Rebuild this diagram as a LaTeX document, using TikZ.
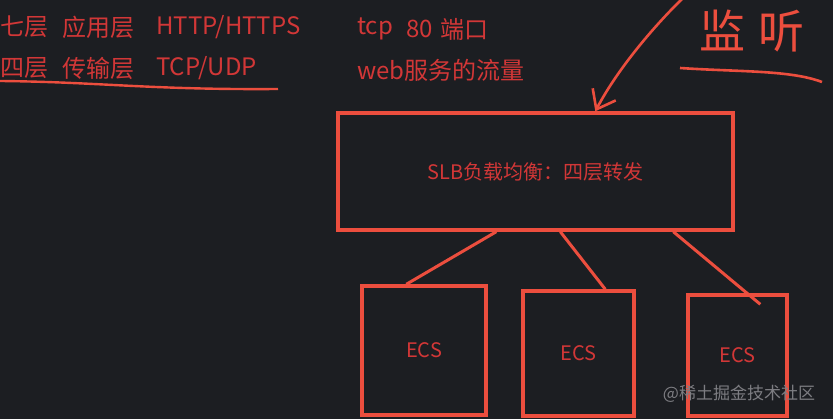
\documentclass[tikz,border=0pt]{standalone}
\usepackage{fontspec}
\setmainfont{Noto Sans CJK SC}
\usetikzlibrary{arrows.meta}
\definecolor{board}{RGB}{28,30,34}
\definecolor{pen}{RGB}{236,78,62}
\definecolor{ink}{RGB}{210,55,55}
\definecolor{wmgray}{RGB}{125,125,130}
\tikzset{
  box/.style = {draw = pen, line width = 3.4pt, text = ink, font = \fontsize{20}{24}\selectfont},
  wire/.style = {draw = pen, line width = 3pt},
  note/.style = {text = ink, inner sep = 0pt, font = \fontsize{24}{28}\selectfont},
}
\begin{document}
\begin{tikzpicture}[x = 1pt, y = -1pt]
    \fill[board] (0,0) rectangle (833,419);
    \useasboundingbox (0,0) rectangle (833,419);
    % layers
    \draw (0,27) node[note, anchor = west] (seven) {七层};
    \draw (62,27) node[note, anchor = west] (app) {应用层};
    \draw (156,27) node[note, anchor = west] (http) {HTTP/HTTPS};
    \draw (0,68) node[note, anchor = west] (four) {四层};
    \draw (62,68) node[note, anchor = west] (trans) {传输层};
    \draw (156,68) node[note, anchor = west] (tcpudp) {TCP/UDP};
    \draw[wire, line width = 2.4pt] (0,81) .. controls (100,82) and (150,90) .. (278,89);
    \draw (357,29) node[note, anchor = west] (tcp) {tcp};
    \draw (406,29) node[note, anchor = west] (port) {80};
    \draw (440,29) node[note, anchor = west] (duankou) {端口};
    \draw (357,70) node[note, anchor = west] (web) {web服务的流量};
    % boxes
    \node[box, minimum width = 395pt, minimum height = 117pt, font = \fontsize{20}{24}\selectfont] (slb) at (535.5,171.5) {SLB负载均衡：四层转发};
    \node[box, minimum width = 124pt, minimum height = 129pt] (ecsa) at (424,350.5) {ECS};
    \node[box, minimum width = 111pt, minimum height = 125pt] (ecsb) at (578.5,353.5) {ECS};
    \node[box, minimum width = 99pt, minimum height = 121pt] (ecsc) at (737.5,355.5) {ECS};
    \draw[wire] ([xshift = 160pt]slb.south west) -- ([xshift = 46pt]ecsa.north west);
    \draw[wire] ([xshift = 224pt]slb.south west) -- ([xshift = 84pt]ecsb.north west);
    \draw[wire] ([xshift = 337pt]slb.south west) -- ([xshift = 74pt, yshift = -11pt]ecsc.north west);
    % listen
    \draw (752,31) node[text = pen, inner sep = 0pt, font = \fontsize{46}{50}\selectfont] (listen) {监\hspace{14pt}听};
    \draw[wire, line width = 2.6pt] (680,68) .. controls (740,72) and (790,70) .. (822,82);
    \coordinate (pentop) at (684,-3);
    \draw[wire, line width = 2.6pt, -{Straight Barb[length = 17pt, width = 26pt]}] (pentop) .. controls (650,30) and (616,72) .. ([xshift = 259pt]slb.north west);
    \draw (739,394) node[text = wmgray, inner sep = 0pt, font = \fontsize{17}{20}\selectfont] (wm) {@稀土掘金技术社区};
\end{tikzpicture}
\end{document}
